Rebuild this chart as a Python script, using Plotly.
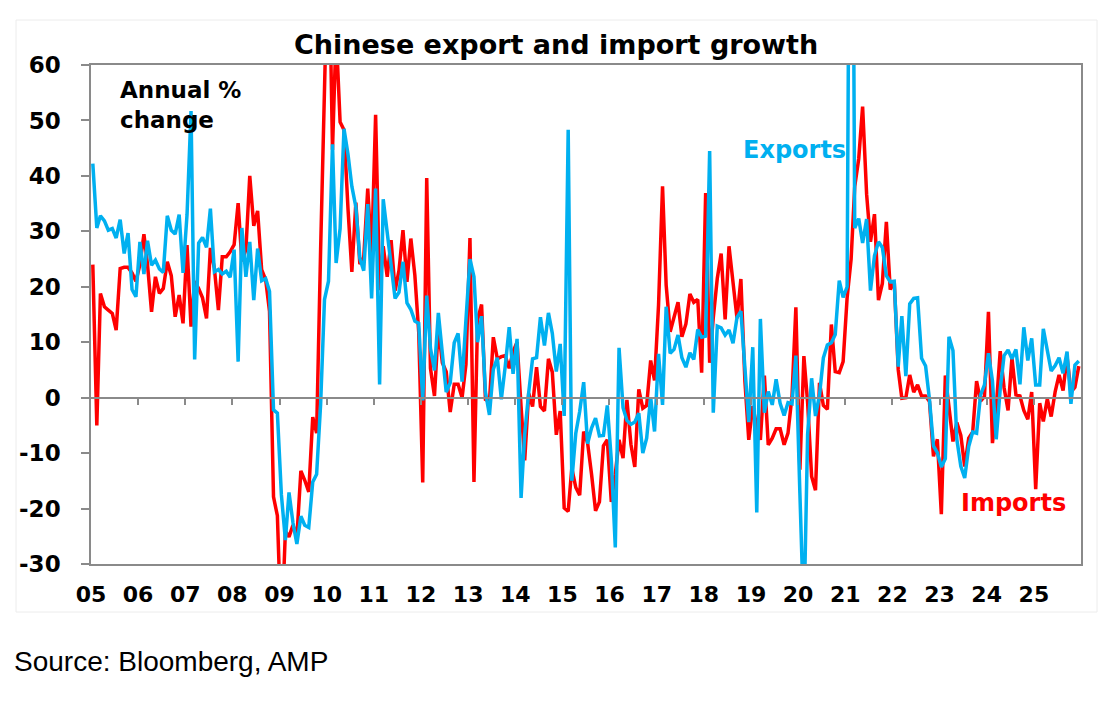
import plotly.graph_objects as go

# ---------------- data (annual % change, monthly, Jan 2005 - Dec 2025) ----------------
years = list(range(2005, 2026))
year_labels = ["05", "06", "07", "08", "09", "10", "11", "12", "13", "14", "15",
               "16", "17", "18", "19", "20", "21", "22", "23", "24", "25"]
y_ticks = [-30, -20, -10, 0, 10, 20, 30, 40, 50, 60]
y_tick_labels = ["-30", "-20", "-10", "0", "10", "20", "30", "40", "50", "60"]

exports = [
    42.2, 30.6, 32.8, 31.9, 30.2, 30.5, 28.8, 32.1, 26.0, 29.7, 19.5, 18.2,   # 2005
    28.1, 22.3, 28.3, 23.9, 24.8, 23.2, 22.6, 32.8, 30.2, 29.5, 33.0, 22.5,   # 2006
    33.0, 51.7, 6.9, 27.9, 28.9, 27.1, 34.1, 22.7, 23.1, 22.3, 22.8, 21.7,    # 2007
    26.7, 6.5, 30.6, 21.8, 28.1, 17.6, 26.9, 21.1, 21.5, 19.2, -2.2, -2.8,    # 2008
    -17.5, -25.7, -17.1, -22.6, -26.4, -21.4, -23.0, -23.4, -15.2, -13.8, -1.2, 17.7,  # 2009
    21.0, 45.7, 24.3, 30.5, 48.5, 43.9, 38.1, 34.4, 25.1, 22.9, 34.9, 17.9,   # 2010
    37.7, 2.4, 35.8, 29.9, 23.0, 17.9, 19.0, 24.5, 17.1, 15.9, 13.8, 13.4,    # 2011
    -0.5, 18.4, 8.9, 4.9, 15.3, 8.0, 1.0, 2.7, 9.9, 11.6, 2.9, 14.1,          # 2012
    25.0, 21.8, 10.0, 14.7, 1.0, -3.1, 5.1, 7.2, -0.3, 5.6, 12.7, 4.3,        # 2013
    10.6, -18.1, -6.6, 0.9, 7.0, 7.2, 14.5, 9.4, 15.3, 11.6, 4.7, 9.7,        # 2014
    -3.3, 48.3, -15.0, -6.4, -2.5, 2.8, -8.3, -5.5, -3.7, -6.9, -6.8, -1.4,   # 2015
    -11.2, -27.0, 9.0, -1.8, -4.1, -4.8, -4.4, -2.8, -10.0, -7.3, 0.1, -6.1,  # 2016
    7.9, -1.3, 16.4, 8.0, 8.7, 11.3, 7.2, 5.5, 8.1, 6.9, 12.3, 10.9,          # 2017
    11.1, 44.5, -2.7, 12.9, 12.6, 11.3, 12.2, 9.8, 14.5, 15.6, 5.4, -4.4,     # 2018
    9.1, -20.7, 14.2, -2.7, 1.1, -1.3, 3.3, -1.0, -3.2, -0.9, -1.1, 7.6,      # 2019
    -17.2, -40.6, -6.6, 3.5, -3.3, 0.5, 7.2, 9.5, 9.9, 11.4, 21.1, 18.1,      # 2020
    20.0, 154.9, 30.6, 32.3, 27.9, 32.2, 19.3, 25.6, 28.1, 27.1, 22.0, 20.9,  # 2021
    21.0, 5.6, 14.7, 3.9, 16.9, 17.9, 18.0, 7.1, 5.7, -0.3, -8.7, -9.9,       # 2022
    -12.5, -11.0, 11.0, 8.5, -7.5, -12.4, -14.5, -8.8, -6.2, -6.4, 0.5, 2.3,  # 2023
    8.0, 3.0, -7.5, 1.5, 7.6, 8.6, 7.0, 8.7, 2.4, 12.7, 6.7, 10.7,            # 2024
    2.3, 2.3, 12.4, 8.1, 4.8, 5.8, 7.2, 4.4, 8.3, -1.1, 5.9, 6.6,             # 2025
]

imports = [
    24.0, -5.0, 18.8, 16.4, 15.8, 15.2, 12.2, 23.3, 23.5, 23.5, 22.5, 21.0,   # 2005
    24.0, 29.5, 24.0, 15.5, 21.8, 18.8, 19.7, 24.5, 22.0, 14.6, 18.5, 13.4,   # 2006
    27.5, 12.8, 21.0, 19.7, 18.0, 14.3, 27.0, 23.3, 15.8, 25.4, 25.4, 26.3,   # 2007
    27.6, 35.1, 24.6, 26.7, 40.0, 31.0, 33.7, 23.1, 21.3, 15.6, -17.9, -21.3, # 2008
    -43.1, -24.1, -25.1, -23.0, -25.2, -13.2, -14.9, -17.0, -3.5, -6.4, 26.7, 55.9,  # 2009
    85.5, 44.7, 66.0, 49.7, 48.3, 34.1, 22.7, 35.2, 24.1, 25.3, 37.7, 25.6,   # 2010
    51.0, 19.4, 27.3, 21.8, 28.4, 19.3, 22.9, 30.2, 20.9, 28.7, 22.1, 11.8,   # 2011
    -15.3, 39.6, 5.3, 0.3, 12.7, 6.3, 4.7, -2.6, 2.4, 2.4, 0.0, 6.0,          # 2012
    28.8, -15.2, 14.1, 16.8, -0.3, -0.7, 10.9, 7.0, 7.4, 7.6, 5.3, 8.3,       # 2013
    10.0, -1.6, -11.3, 0.8, -1.6, 5.5, -1.6, -2.4, 7.0, 4.6, -6.7, -2.4,      # 2014
    -19.9, -20.5, -12.7, -16.2, -17.6, -6.1, -8.1, -13.8, -20.4, -18.8, -8.7, -7.6,  # 2015
    -18.8, -13.8, -7.6, -10.9, -0.4, -8.4, -12.5, 1.5, -1.9, -1.4, 6.7, 3.1,  # 2016
    16.7, 38.1, 20.3, 11.9, 14.8, 17.2, 11.0, 13.3, 18.7, 17.2, 17.7, 4.5,    # 2017
    36.9, 6.3, 14.4, 21.5, 26.0, 14.1, 27.3, 20.0, 14.3, 21.4, 3.0, -7.6,     # 2018
    -1.5, -5.2, -7.6, 4.0, -8.5, -7.3, -5.6, -5.6, -8.5, -6.4, 0.3, 16.3,     # 2019
    -13.0, 7.5, -0.9, -14.2, -16.7, 2.7, -1.4, -2.1, 13.2, 4.7, 4.5, 6.5,     # 2020
    18.0, 25.0, 38.1, 43.1, 52.5, 36.7, 28.1, 33.1, 17.6, 20.6, 31.7, 19.5,   # 2021
    21.0, 5.0, -0.1, 0.0, 4.1, 1.0, 2.3, 0.3, 0.3, -0.7, -10.6, -7.5,         # 2022
    -21.0, 4.0, -1.4, -7.9, -4.5, -6.8, -12.4, -7.3, -6.2, 3.0, -0.6, 0.2,    # 2023
    15.5, -8.2, -1.9, 8.4, 1.8, -2.3, 7.2, 0.5, 0.3, -2.3, -3.9, 1.0,         # 2024
    -16.5, -1.0, -4.3, -0.2, -3.4, 1.1, 4.1, 1.3, 7.4, 1.0, 1.9, 5.7,         # 2025
]

months = [f"{y}-{m:02d}-15" for y in years for m in range(1, 13)]

# ---------------- styling ----------------
RED = "#FF0000"
BLUE = "#00B0F0"
AXIS = "#8a8a8a"
BOLD = "DejaVu Sans"

PAGE_W, PAGE_H = 1114, 706
OFF = 8                          # default body margin of the html page
W, H = PAGE_W - OFF, PAGE_H - OFF
L, R, T, B = 91, 1081, 65, 564   # plot area in page pixels


def px(x):
    return (x - L) / (R - L)


def py(y):
    return (B - y) / (B - T)


fig = go.Figure()
fig.add_trace(go.Scatter(x=months, y=imports, mode="lines", name="Imports",
                         line=dict(color=RED, width=3.5), hoverinfo="x+y"))
fig.add_trace(go.Scatter(x=months, y=exports, mode="lines", name="Exports",
                         line=dict(color=BLUE, width=3.5), hoverinfo="x+y"))

tickvals = [f"{y}-01-01" for y in years]
xrange = ["2005-01-01", "2026-01-01"]

fig.update_layout(
    width=W, height=H,
    margin=dict(l=L - OFF, r=PAGE_W - R, t=T - OFF, b=PAGE_H - B, pad=0),
    paper_bgcolor="white", plot_bgcolor="white",
    showlegend=False,
    xaxis=dict(
        type="date", range=xrange, tickvals=tickvals, ticktext=year_labels,
        ticks="", showline=True, linecolor=AXIS, linewidth=1.5, mirror=True,
        showgrid=False, zeroline=False, automargin=False,
        tickfont=dict(family=BOLD, size=22, color="black", weight="bold"),
        ticklabelstandoff=10,
    ),
    xaxis2=dict(
        type="date", range=xrange, overlaying="x", anchor="free", position=30 / 90,
        tickvals=tickvals[1:], showticklabels=False, ticks="outside", ticklen=7,
        tickwidth=1.5, tickcolor=AXIS, showline=True, linecolor=AXIS, linewidth=1.5,
        showgrid=False, zeroline=False, automargin=False,
    ),
    yaxis=dict(
        range=[-30, 60], tickvals=y_ticks, ticktext=y_tick_labels,
        ticks="outside", ticklen=8, tickwidth=1.5,
        tickcolor=AXIS, showline=True, linecolor=AXIS, linewidth=1.5, mirror=True,
        showgrid=False, zeroline=False, automargin=False,
        tickfont=dict(family=BOLD, size=23, color="black", weight="bold"),
        ticklabelstandoff=16,
    ),
)

# invisible trace so the zero-line axis is drawn
fig.add_trace(go.Scatter(x=[months[0]], y=[0], xaxis="x2", mode="markers",
                         marker=dict(opacity=0), hoverinfo="skip", showlegend=False))

fig.add_annotation(text="Chinese export and import growth", x=px(556), y=py(44.5),
                   xref="paper", yref="paper", xanchor="center", yanchor="middle",
                   showarrow=False, font=dict(family=BOLD, size=27, color="black", weight="bold"))
fig.add_annotation(text="Annual %<br>change", x=px(118), y=py(105), xref="paper", yref="paper",
                   xanchor="left", yanchor="middle", align="left", showarrow=False,
                   font=dict(family=BOLD, size=23, color="black", weight="bold"))
fig.add_annotation(text="Exports", x=px(741), y=py(150), xref="paper", yref="paper",
                   xanchor="left", yanchor="middle", showarrow=False,
                   font=dict(family=BOLD, size=24, color=BLUE, weight="bold"))
fig.add_annotation(text="Imports", x=px(959), y=py(503), xref="paper", yref="paper",
                   xanchor="left", yanchor="middle", showarrow=False,
                   font=dict(family=BOLD, size=24, color=RED, weight="bold"))
fig.add_annotation(text="Source: Bloomberg, AMP", x=px(12), y=py(661), xref="paper", yref="paper",
                   xanchor="left", yanchor="middle", showarrow=False,
                   font=dict(family="Liberation Sans", size=28, color="black"))

# faint outer chart frame
fig.add_shape(type="rect", xref="paper", yref="paper",
              x0=px(16), x1=px(1097), y0=py(612), y1=py(20),
              line=dict(color="#ececec", width=1), layer="below")

fig.write_html("out.html")
